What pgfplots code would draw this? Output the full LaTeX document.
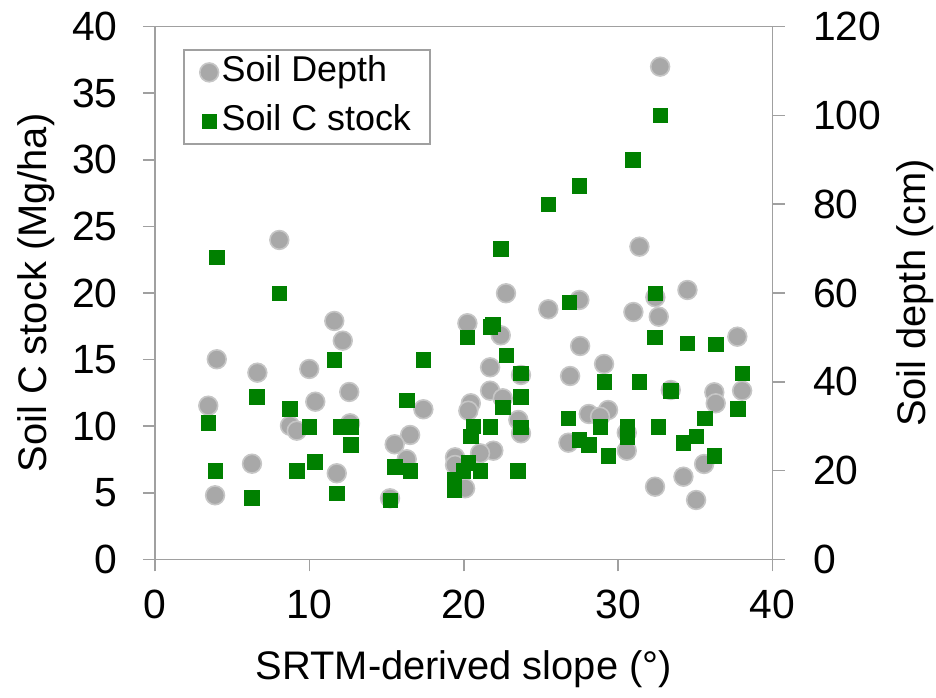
\documentclass[border=0pt]{standalone}
\usepackage{fontspec}
\setmainfont{Liberation Sans}
\usepackage{pgfplots}
\pgfplotsset{compat=1.18}
\definecolor{axgrey}{HTML}{A0A0A0}
\definecolor{dotgrey}{HTML}{A8A8A8}
\definecolor{dotedge}{HTML}{C6C6C6}
\definecolor{sqgreen}{HTML}{008000}

\pgfplotsset{
  soilframe/.style={
    scale only axis, width=308.85bp, height=266.3bp,
    xmin=0, xmax=40,
    axis line style={axgrey, line width=0.8bp},
    major tick style={axgrey, line width=0.8bp},
    tick align=outside, major tick length=6bp,
    /pgf/number format/assume math mode=true,
    tick label style={font=\fontsize{20.5}{22}\selectfont, inner sep=0pt},
  },
}

\begin{document}
\begin{tikzpicture}
% Depth on the right axis, drawn first so the squares sit on top.
\begin{axis}[soilframe, name=dep,
  axis y line*=right, axis x line=none,
  ymin=0, ymax=120, ytick={0,20,...,120},
  yticklabel style={anchor=west, xshift=14bp},
  ylabel={Soil depth (cm)},
  every axis y label/.style={at={([xshift=76.2bp]rel axis cs:1,0.5)}, rotate=90,
    anchor=base, font=\fontsize{20}{22}\selectfont},
]
\addplot[only marks, mark=*, mark size=4.7bp,
  mark options={fill=dotgrey, draw=dotedge, line width=0.8bp}] table {
x y
8.05 71.95
11.61 53.7
12.16 49.26
4.0 45.07
6.63 42.05
9.99 42.88
12.58 37.70
10.38 35.51
3.45 34.61
8.74 30.10
9.18 28.98
12.63 30.64
6.28 21.54
11.77 19.38
3.89 14.42
22.73 59.94
25.47 56.33
20.23 53.18
22.39 50.47
21.70 43.26
23.70 41.53
21.70 37.99
22.52 36.28
17.38 33.80
20.45 35.15
20.29 33.48
23.53 31.39
23.70 28.39
16.52 28.01
15.52 25.91
21.91 24.47
21.05 23.88
19.43 22.98
16.30 22.53
19.43 21.25
20.08 16.0
15.22 13.75
31.37 70.44
34.48 60.68
27.48 58.43
32.40 59.04
30.98 55.72
32.62 54.66
37.71 50.16
27.53 48.06
29.08 44.01
26.88 41.30
33.40 38.15
36.22 37.63
38.02 37.99
36.31 35.15
29.34 33.64
28.09 32.74
28.82 32.13
30.55 28.53
26.77 26.27
30.55 24.47
35.56 21.47
34.22 18.61
32.38 16.36
35.04 13.36
32.71 111.0
};
\end{axis}

\begin{axis}[soilframe, name=stk,
  ymin=0, ymax=40, ytick={0,5,...,40}, xtick={0,10,...,40},
  tick pos=left,
  xticklabel style={anchor=base, yshift=-23.6bp},
  yticklabel style={anchor=east, xshift=-12.5bp},
  xlabel={SRTM-derived slope (°)},
  ylabel={Soil C stock (Mg/ha)},
  every axis x label/.style={at={([yshift=-59.9bp]rel axis cs:0.5,0)}, anchor=base,
    font=\fontsize{20}{22}\selectfont},
  every axis y label/.style={at={([xshift=-54bp]rel axis cs:0,0.5)}, rotate=90,
    anchor=base, font=\fontsize{20}{22}\selectfont},
  legend style={at={(rel axis cs:0,1)}, anchor=north west, xshift=14bp, yshift=-11.2bp,
    draw=axgrey, line width=0.8bp, font=\fontsize{18}{21}\selectfont,
    inner xsep=8bp, inner ysep=1.5bp, row sep=5bp,
    nodes={inner sep=1.5bp, text height=13bp, text depth=3.5bp}},
  legend cell align=left,
]
\addlegendimage{only marks, mark=*, mark size=4.7bp,
  mark options={fill=dotgrey, draw=dotedge, line width=0.8bp}}
\addplot[only marks, mark=square*, mark size=3.6bp,
  mark options={fill=sqgreen, draw=sqgreen, line width=0.3bp}] table {
x y
4.0 22.7
8.05 19.98
11.61 14.97
6.59 12.21
8.74 11.31
3.45 10.26
9.99 9.96
11.98 9.96
12.67 9.96
12.67 8.61
10.36 7.33
3.89 6.65
9.18 6.65
11.77 4.96
6.26 4.63
22.39 23.33
21.87 17.65
21.70 17.47
20.23 16.67
17.38 14.97
22.73 15.32
23.70 13.97
16.30 11.96
23.70 12.21
22.52 11.42
20.62 10.01
21.70 9.96
23.69 9.91
20.45 9.26
15.52 6.95
16.52 6.65
20.29 7.25
19.97 6.65
21.05 6.65
23.49 6.65
19.38 5.96
19.38 5.20
15.22 4.45
26.83 19.32
32.40 19.98
32.36 16.67
34.48 16.22
36.31 16.15
38.02 13.97
29.08 13.32
31.37 13.32
33.40 12.64
37.74 11.31
35.60 10.61
26.77 10.61
28.82 9.96
30.59 10.01
32.58 9.96
30.59 9.16
35.04 9.26
34.22 8.76
27.48 8.96
28.09 8.61
29.34 7.76
36.22 7.76
32.71 33.35
30.94 29.99
27.48 28.04
25.45 26.68
};
\legend{Soil Depth, Soil C stock}
\end{axis}
\pgfresetboundingbox
\useasboundingbox ([shift={(-77.5bp,-69bp)}]stk.south west)
  rectangle ([shift={(81.65bp,13.35bp)}]stk.north east);
\end{tikzpicture}
\end{document}
